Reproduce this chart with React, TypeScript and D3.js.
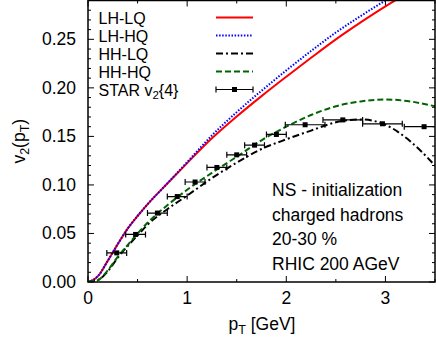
import React from 'react'
import * as d3 from 'd3'

// model curves, sampled on a common pT grid
const ptGrid = [0, 0.05, 0.1, 0.2, 0.3, 0.4, 0.5, 0.6, 0.8, 1.0, 1.25, 1.5, 1.75, 2.0, 2.25, 2.5, 2.75, 3.0, 3.25, 3.5]
const lhLq = [0, 0.002, 0.006, 0.022, 0.039, 0.055, 0.068, 0.08, 0.1015, 0.1225, 0.148, 0.1705, 0.1915, 0.2115, 0.231, 0.25, 0.2675, 0.284, 0.299, 0.313]
const lhHq = [0, 0.002, 0.006, 0.022, 0.039, 0.055, 0.068, 0.08, 0.1015, 0.1235, 0.151, 0.175, 0.197, 0.218, 0.238, 0.257, 0.274, 0.29, 0.305, 0.32]
const hhLq = [0, 0.001, 0.002, 0.011, 0.025, 0.037, 0.048, 0.059, 0.075, 0.089, 0.107, 0.123, 0.137, 0.147, 0.156, 0.1645, 0.1675, 0.162, 0.145, 0.12]
const hhHq = [0, 0.001, 0.002, 0.012, 0.026, 0.038, 0.05, 0.061, 0.079, 0.095, 0.1125, 0.129, 0.146, 0.16, 0.172, 0.181, 0.186, 0.188, 0.186, 0.181]

// STAR v2{4}
const starPt = [0.29, 0.48, 0.7, 0.9, 1.08, 1.3, 1.5, 1.68, 1.9, 2.19, 2.57, 2.97, 3.39]
const starV2 = [0.03, 0.049, 0.071, 0.088, 0.103, 0.118, 0.131, 0.141, 0.152, 0.162, 0.167, 0.163, 0.16]
const starPtErr = [0.1, 0.1, 0.1, 0.1, 0.1, 0.1, 0.1, 0.1, 0.1, 0.2, 0.2, 0.2, 0.2]

const xTicks = [0, 1, 2, 3]
const yTicks = [0, 0.05, 0.1, 0.15, 0.2, 0.25]
const notes = ['NS - initialization', 'charged hadrons', '20-30 %', 'RHIC 200 AGeV']

const series = [
  { name: 'LH-LQ', values: lhLq, color: '#ff0000', dash: null },
  { name: 'LH-HQ', values: lhHq, color: '#0000ff', dash: '1.5,1.6' },
  { name: 'HH-LQ', values: hhLq, color: '#000000', dash: '7,3,2,3' },
  { name: 'HH-HQ', values: hhHq, color: '#006400', dash: '6,3' }
]

const W = 436, H = 337
const m = { left: 88, right: 1, top: 0.5, bottom: 55 }
const font = '"Liberation Sans", Arial, sans-serif'

export default function App() {
  const x = d3.scaleLinear().domain([0, 3.5]).range([m.left, W - m.right])
  const y = d3.scaleLinear().domain([0, 0.29]).range([H - m.bottom, m.top])
  const [x0, x1] = x.range()
  const [y0, y1] = y.range()

  const line = d3.line<number>()
    .x((_, i) => x(ptGrid[i]))
    .y(d => y(d))
    .curve(d3.curveMonotoneX)

  const xMinor = d3.range(0, 3.51, 0.5)
  const yMinor = d3.range(0, 0.291, 0.01)
  const isMajorY = (v: number) => Math.abs(v / 0.05 - Math.round(v / 0.05)) < 1e-6
  const isMajorX = (v: number) => Math.abs(v - Math.round(v)) < 1e-6

  const legX0 = 216, legX1 = 253
  const legY = (i: number) => 17.5 + i * 18

  return (
    <svg width={W} height={H} style={{ position: 'absolute', left: 0, top: 0, background: '#fff' }}
      fontFamily={font} fontSize={17.5}>
      <defs>
        <clipPath id="plot">
          <rect x={x0} y={y1} width={x1 - x0} height={y0 - y1} />
        </clipPath>
      </defs>

      {/* ticks, mirrored on all four sides */}
      <g stroke="#000" strokeWidth={1}>
        {xMinor.map(v => {
          const len = isMajorX(v) ? 6 : 3
          return (
            <g key={'x' + v}>
              <line x1={x(v)} x2={x(v)} y1={y0} y2={y0 - len} />
              <line x1={x(v)} x2={x(v)} y1={y1} y2={y1 + len} />
            </g>
          )
        })}
        {yMinor.map(v => {
          const len = isMajorY(v) ? 6 : 3
          return (
            <g key={'y' + v}>
              <line x1={x0} x2={x0 + len} y1={y(v)} y2={y(v)} />
              <line x1={x1} x2={x1 - len} y1={y(v)} y2={y(v)} />
            </g>
          )
        })}
      </g>

      {xTicks.map(v => (
        <text key={v} x={x(v)} y={304} textAnchor="middle">{v}</text>
      ))}
      {yTicks.map(v => (
        <text key={v} x={76} y={y(v) + 6} textAnchor="end">{v.toFixed(2)}</text>
      ))}

      <text x={262} y={330} textAnchor="middle">
        p<tspan fontSize={12.5} dy={4}>T</tspan><tspan dy={-4}> [GeV]</tspan>
      </text>
      <text transform={`translate(25,${(y0 + y1) / 2}) rotate(-90)`} textAnchor="middle">
        v<tspan fontSize={12.5} dy={4}>2</tspan><tspan dy={-4}>(p</tspan><tspan fontSize={12.5} dy={4}>T</tspan><tspan dy={-4}>)</tspan>
      </text>

      <g clipPath="url(#plot)" fill="none">
        {series.map(s => (
          <path key={s.name} d={line(s.values) || ''} stroke={s.color} strokeWidth={2}
            strokeDasharray={s.dash || undefined} />
        ))}
        <g stroke="#000" strokeWidth={1.2}>
          {starPt.map((p, i) => (
            <g key={i}>
              <line x1={x(p - starPtErr[i])} x2={x(p + starPtErr[i])} y1={y(starV2[i])} y2={y(starV2[i])} />
              <line x1={x(p - starPtErr[i])} x2={x(p - starPtErr[i])} y1={y(starV2[i]) - 3} y2={y(starV2[i]) + 3} />
              <line x1={x(p + starPtErr[i])} x2={x(p + starPtErr[i])} y1={y(starV2[i]) - 3} y2={y(starV2[i]) + 3} />
              <rect x={x(p) - 2.5} y={y(starV2[i]) - 2.5} width={5} height={5} fill="#000" stroke="none" />
            </g>
          ))}
        </g>
      </g>

      {/* legend */}
      <g fontSize={16}>
        {series.map((s, i) => (
          <g key={s.name}>
            <text x={98.5} y={legY(i) + 6}>{s.name}</text>
            <line x1={legX0} x2={legX1} y1={legY(i)} y2={legY(i)} stroke={s.color} strokeWidth={2}
              strokeDasharray={s.dash || undefined} />
          </g>
        ))}
        <text x={98.5} y={legY(4) + 6}>
          STAR v<tspan fontSize={11.5} dy={3.5}>2</tspan><tspan dy={-3.5}>{'{4}'}</tspan>
        </text>
        <g stroke="#000" strokeWidth={1.2}>
          <line x1={legX0} x2={legX1} y1={legY(4)} y2={legY(4)} />
          <line x1={legX0} x2={legX0} y1={legY(4) - 3} y2={legY(4) + 3} />
          <line x1={legX1} x2={legX1} y1={legY(4) - 3} y2={legY(4) + 3} />
        </g>
        <rect x={(legX0 + legX1) / 2 - 2.5} y={legY(4) - 2.5} width={5} height={5} fill="#000" />
      </g>

      {notes.map((t, i) => (
        <text key={t} x={272} y={196 + i * 24.5}>{t}</text>
      ))}

      <rect x={x0} y={y1} width={x1 - x0} height={y0 - y1} fill="none" stroke="#000" strokeWidth={1.5} />
    </svg>
  )
}
